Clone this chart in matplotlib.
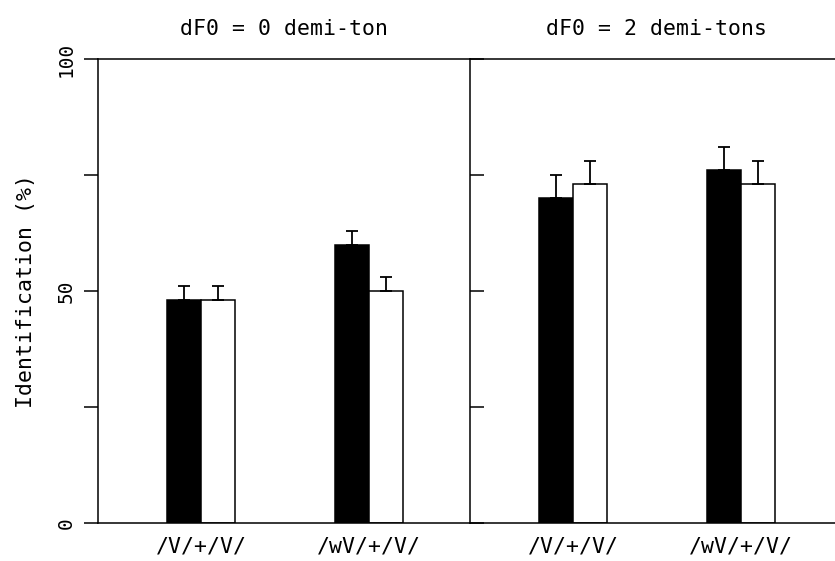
import matplotlib
matplotlib.use("Agg")
import matplotlib.pyplot as plt
import numpy as np

categories = ["/V/+/V/", "/wV/+/V/"]
panel_titles = ["dF0 = 0 demi-ton", "dF0 = 2 demi-tons"]
black_vals = [[48, 60], [70, 76]]
white_vals = [[48, 50], [73, 73]]
black_err = [[3, 3], [5, 5]]
white_err = [[3, 3], [5, 5]]
yticks = [0, 25, 50, 75, 100]
ytick_labels = ["0", "", "50", "", "100"]
ylabel = "Identification (%)"

W, H = 835, 561
plt.rcParams['font.family'] = ['DejaVu Sans Mono', 'DejaVu Sans']
fig = plt.figure(figsize=(W / 100, H / 100), dpi=100)

ax_left_px = [98, 470]
ax_w_px = 372
ax_bottom_px = 523
ax_top_px = 59

bw = 0.2
x = np.arange(len(categories))
lw = 1.1
fs = 15.5

for p in range(2):
    l = ax_left_px[p] / W
    ax = fig.add_axes([l, (H - ax_bottom_px) / H, ax_w_px / W,
                       (ax_bottom_px - ax_top_px) / H])
    ax.bar(x - bw / 2, black_vals[p], width=bw, color="black",
           edgecolor="black", linewidth=lw, zorder=2)
    ax.bar(x + bw / 2, white_vals[p], width=bw, color="white",
           edgecolor="black", linewidth=lw, zorder=2)
    ax.errorbar(x - bw / 2, black_vals[p],
                yerr=[np.zeros(len(x)), black_err[p]], fmt="none",
                ecolor="black", elinewidth=1.3, capsize=4.5,
                capthick=1.3, zorder=3)
    ax.errorbar(x + bw / 2, white_vals[p],
                yerr=[np.zeros(len(x)), white_err[p]], fmt="none",
                ecolor="black", elinewidth=1.3, capsize=4.5,
                capthick=1.3, zorder=3)
    ax.set_xlim(-0.613, 1.601)
    ax.set_ylim(0, 100)
    ax.set_xticks(x)
    ax.set_xticklabels(categories, fontsize=fs)
    ax.tick_params(axis="x", length=0, pad=10)
    ax.set_yticks(yticks)
    for s in ["top", "bottom", "left", "right"]:
        ax.spines[s].set_linewidth(lw)
        ax.spines[s].set_color("black")
    ax.spines["right"].set_visible(False)
    if p == 0:
        ax.set_yticklabels(ytick_labels, fontsize=14, rotation=90,
                           va="center")
        ax.tick_params(axis="y", direction="out", length=10, width=lw, pad=6)
        ax.set_ylabel(ylabel, fontsize=fs, labelpad=15)
    else:
        ax.set_yticklabels([])
        ax.tick_params(axis="y", direction="in", length=10, width=lw)
    ax.set_title(panel_titles[p], fontsize=fs, pad=17)

fig.savefig("out.png", dpi=100)
